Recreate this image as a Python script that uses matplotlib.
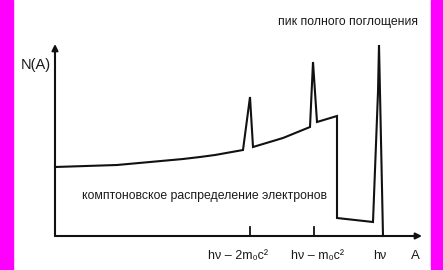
import matplotlib
matplotlib.use('agg')
import matplotlib.pyplot as plt
from matplotlib.patches import Rectangle

# spectrum outline, A (channel) vs N(A), origin at the axes crossing
spec_a = [0, 62, 128, 145, 160, 188, 195, 198, 228, 255, 258, 262, 282, 282, 318, 323, 324, 328]
spec_n = [69, 71, 77, 79, 81, 86, 139, 89, 98, 109, 174, 114, 120, 18, 14, 144, 191, 0]

tick_pos = [195, 259, 325]
tick_labels = ['hν – 2m₀c²', 'hν – m₀c²', 'hν']
label_shift = [-12, 4, 0]

y_label = 'N(A)'
x_label = 'A'
peak_text = 'пик полного поглощения'
compton_text = 'комптоновское распределение электронов'

FONT = ['Liberation Sans', 'DejaVu Sans']
INK = '#111111'
TXT = '#1a1a1a'

fig = plt.figure(figsize=(4.43, 2.70), dpi=100)
ax = fig.add_axes([0, 0, 1, 1])
ax.set_xlim(-55, 388)
ax.set_ylim(-34, 236)
ax.axis('off')

# magenta edge strips
fig.patches.append(Rectangle((0, 0), 13 / 443, 1, transform=fig.transFigure,
                             color='#ff00ff', zorder=0))
fig.patches.append(Rectangle((431 / 443, 0), 12 / 443, 1, transform=fig.transFigure,
                             color='#ff00ff', zorder=0))

# axes with arrows
ax.annotate('', xy=(0, 192), xytext=(0, 0),
            arrowprops=dict(arrowstyle='-|>', color=INK, lw=1.5,
                            mutation_scale=9, shrinkA=0, shrinkB=0))
ax.annotate('', xy=(367, 0), xytext=(0, 0),
            arrowprops=dict(arrowstyle='-|>', color=INK, lw=1.5,
                            mutation_scale=9, shrinkA=0, shrinkB=0))

ax.plot(spec_a, spec_n, color=INK, lw=1.5, solid_joinstyle='miter')

for x in tick_pos[:2]:
    ax.plot([x, x], [0, 9], color=INK, lw=1.3)

for x, lab, dx in zip(tick_pos, tick_labels, label_shift):
    ax.text(x + dx, -20, lab, ha='center', va='center', fontsize=9,
            family=FONT, color=TXT)
ax.text(360, -20, x_label, ha='center', va='center', fontsize=9.5,
        family=FONT, color=TXT)
ax.text(-4, 171, y_label, ha='right', va='center', fontsize=10.5,
        family=FONT, color=TXT)
ax.text(293, 214, peak_text, ha='center', va='center', fontsize=8.8,
        family=FONT, color=TXT)
ax.text(150, 40, compton_text, ha='center', va='center', fontsize=8.8,
        family=FONT, color=TXT)

fig.savefig('out.png', dpi=100)
